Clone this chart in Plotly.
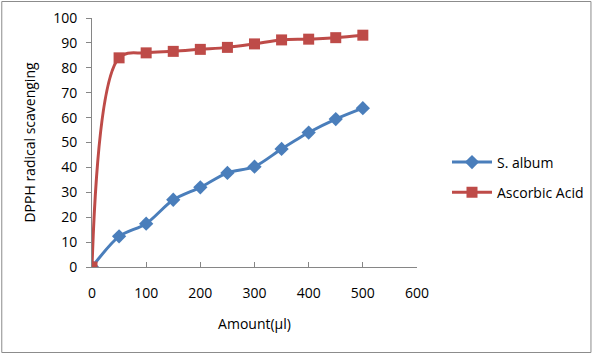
import plotly.graph_objects as go

amount = [0, 50, 100, 150, 200, 250, 300, 350, 400, 450, 500]
s_album = [0, 12.3, 17.4, 27.0, 32.0, 37.8, 40.3, 47.4, 54.0, 59.4, 63.8]
ascorbic = [0, 84.0, 86.0, 86.6, 87.4, 88.2, 89.6, 91.2, 91.5, 92.1, 93.1]

x_ticks = [0, 100, 200, 300, 400, 500, 600]
y_ticks = [0, 10, 20, 30, 40, 50, 60, 70, 80, 90, 100]

font = "Open Sans, Liberation Sans, sans-serif"
axis_color = "#868686"

fig = go.Figure()
fig.add_trace(go.Scatter(
    x=amount, y=s_album, name="S. album", mode="lines+markers", legendgroup="a",
    line=dict(color="#4A7EBB", width=3, shape="spline", smoothing=0.8),
    marker=dict(symbol="diamond", size=11, color="#4A7EBB"),
))
fig.add_trace(go.Scatter(
    x=amount, y=ascorbic, name="Ascorbic Acid", mode="lines+markers", legendgroup="b",
    line=dict(color="#BE4B48", width=3, shape="spline", smoothing=1.0),
    marker=dict(symbol="square", size=11, color="#BE4B48"),
))

fig.update_layout(
    width=600, height=358,
    margin=dict(l=92, r=182, t=18, b=91),
    paper_bgcolor="white", plot_bgcolor="white",
    font=dict(family=font, size=14, color="#000000"),
    showlegend=True,
    legend=dict(x=(447 - 92) / 326, y=(267 - 177.5) / 249, xanchor="left", yanchor="middle",
                font=dict(size=14), tracegroupgap=9, itemwidth=40,
                bgcolor="rgba(0,0,0,0)"),
    shapes=[dict(type="rect", xref="paper", yref="paper",
                 x0=-90.5 / 326, x1=(592.5 - 92) / 326,
                 y0=-(352.5 - 267) / 249, y1=1 + 16.5 / 249,
                 line=dict(color="#8C8C8C", width=1), layer="below")],
)
fig.update_xaxes(
    range=[0, 600], tickvals=x_ticks, ticktext=[str(v) for v in x_ticks],
    showgrid=False, zeroline=False, showline=True, linecolor=axis_color, linewidth=1,
    ticks="inside", ticklen=5, tickcolor=axis_color, automargin=False,
    ticklabelstandoff=13,
    title=dict(text="Amount(µl)", standoff=18, font=dict(size=14)),
    tickfont=dict(size=14),
)
fig.update_yaxes(
    range=[0, 100], tickvals=y_ticks, ticktext=[str(v) for v in y_ticks],
    showgrid=False, zeroline=False, showline=True, linecolor=axis_color, linewidth=1,
    ticks="outside", ticklen=5, tickcolor=axis_color, automargin=False,
    ticklabelstandoff=6,
    title=dict(text="DPPH radical scavenging", standoff=14, font=dict(size=14)),
    tickfont=dict(size=14),
)

fig.write_html("out.html", config={"displayModeBar": False},
               post_script="document.body.style.margin='0';")
